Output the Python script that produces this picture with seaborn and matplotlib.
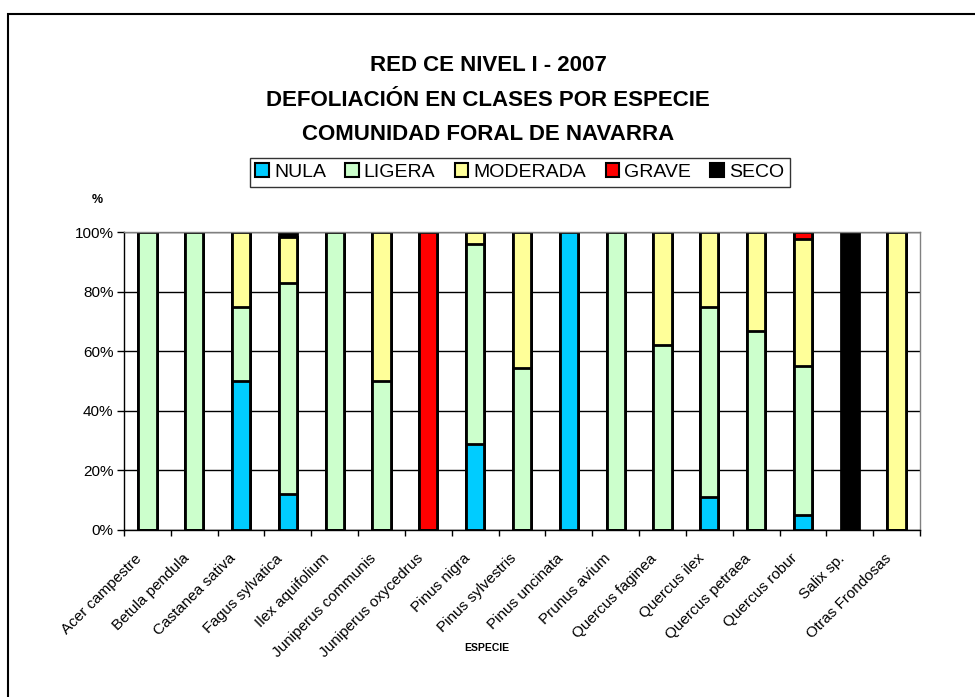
import numpy as np
import pandas as pd
import matplotlib
matplotlib.use("Agg")
import matplotlib.pyplot as plt
import matplotlib.transforms as mtransforms
import seaborn as sns
from matplotlib.patches import Patch, Rectangle
from matplotlib.ticker import PercentFormatter

# species on the x axis
especies = ["Acer campestre", "Betula pendula", "Castanea sativa", "Fagus sylvatica",
            "Ilex aquifolium", "Juniperus communis", "Juniperus oxycedrus", "Pinus nigra",
            "Pinus sylvestris", "Pinus uncinata", "Prunus avium", "Quercus faginea",
            "Quercus ilex", "Quercus petraea", "Quercus robur", "Salix sp.", "Otras Frondosas"]

# defoliation classes (% of trees per species)
nula     = [0, 0, 50, 12, 0, 0, 0, 29, 0, 100, 0, 0, 11, 0, 5, 0, 0]
ligera   = [100, 100, 25, 71, 100, 50, 0, 67, 54.3, 0, 100, 62, 64, 66.7, 50, 0, 0]
moderada = [0, 0, 25, 15.5, 0, 50, 0, 4, 45.7, 0, 0, 38, 25, 33.3, 42.5, 0, 100]
grave    = [0, 0, 0, 0, 0, 0, 100, 0, 0, 0, 0, 0, 0, 0, 2.5, 0, 0]
seco     = [0, 0, 0, 1.5, 0, 0, 0, 0, 0, 0, 0, 0, 0, 0, 0, 100, 0]

clases = ["NULA", "LIGERA", "MODERADA", "GRAVE", "SECO"]
colores = ["#00CCFF", "#CCFFCC", "#FFFF99", "#FF0000", "#000000"]

df = pd.DataFrame({"especie": especies, "NULA": nula, "LIGERA": ligera,
                   "MODERADA": moderada, "GRAVE": grave, "SECO": seco})
cum = df[clases].cumsum(axis=1)

sns.set_theme(style="white")
plt.rcParams["font.family"] = ["Liberation Sans", "DejaVu Sans"]
plt.rcParams.update({"text.color": "black", "xtick.color": "black",
                     "ytick.color": "black", "axes.labelcolor": "black"})

fig = plt.figure(figsize=(9.75, 6.97), dpi=100)
ax = fig.add_axes([0.1272, 0.2396, 0.8164, 0.4275])

ax.yaxis.grid(True, color="black", linewidth=1, zorder=0)
ax.set_axisbelow(True)

# draw stacked bars from the top layer down
for clase, color in reversed(list(zip(clases, colores))):
    sns.barplot(x=df["especie"], y=cum[clase], order=especies, color=color,
                width=0.39, edgecolor="black", linewidth=2, saturation=1,
                ax=ax, zorder=2)

ax.set_ylim(0, 100)
ax.set_xlim(-0.5, len(especies) - 0.5)
ax.set_yticks(np.arange(0, 101, 20))
ax.yaxis.set_major_formatter(PercentFormatter(decimals=0))
ax.tick_params(axis="y", labelsize=11, length=5, width=1, color="black", left=True, pad=2.5)
ax.set_xticks(range(len(especies)))
ax.set_xticklabels(especies, rotation=45, ha="right", va="center",
                   rotation_mode="anchor", fontsize=11)
ax.tick_params(axis="x", length=0, pad=19)
ax.set_xticks(np.arange(-0.5, len(especies), 1), minor=True)
ax.tick_params(axis="x", which="minor", length=4, width=1, color="black", bottom=True)
ax.set_xlabel("")
ax.set_ylabel("")

# labels sit a little left of the bar centre, like in Excel
shift = mtransforms.ScaledTranslation(-7.5 / 100, 0, fig.dpi_scale_trans)
for lbl in ax.get_xticklabels():
    lbl.set_transform(lbl.get_transform() + shift)

for side in ["top", "right"]:
    ax.spines[side].set_color("#808080")
    ax.spines[side].set_linewidth(1)
for side in ["left", "bottom"]:
    ax.spines[side].set_color("black")
    ax.spines[side].set_linewidth(1)

fig.text(0.5005, 0.8565, "RED CE NIVEL I - 2007\nDEFOLIACIÓN EN CLASES POR ESPECIE\nCOMUNIDAD FORAL DE NAVARRA",
         ha="center", va="center", fontsize=16, fontweight="bold", linespacing=1.82)

handles = [Patch(facecolor=c, edgecolor="black", linewidth=1.5) for c in colores]
leg = fig.legend(handles, clases, loc="center", bbox_to_anchor=(0.533, 0.753), ncol=5,
                 fontsize=14, frameon=True, fancybox=False, handlelength=0.7,
                 handleheight=0.7, handletextpad=0.25, columnspacing=1.0,
                 borderpad=0.3, borderaxespad=0)
leg.get_frame().set_edgecolor("black")
leg.get_frame().set_linewidth(1)

fig.text(0.1, 0.713, "%", ha="center", va="center", fontsize=9, fontweight="bold")
fig.text(0.4995, 0.07, "ESPECIE", ha="center", va="center", fontsize=7.5, fontweight="bold")

# outer chart border
fig.patches.append(Rectangle((8 / 975, -0.1), 1.2, 1 - 14 / 697 + 0.1, transform=fig.transFigure,
                             fill=False, edgecolor="black", linewidth=1.5, zorder=10))

fig.savefig("out.png", dpi=100)
